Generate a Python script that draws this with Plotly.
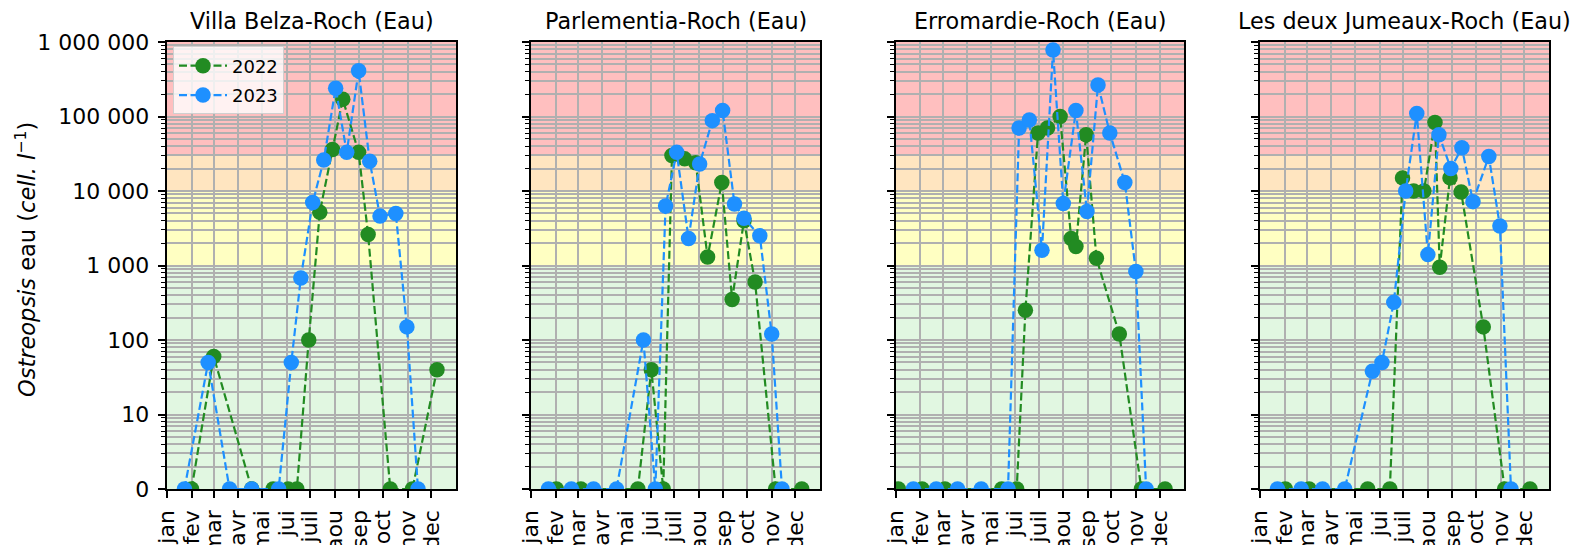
import numpy as np
import pandas as pd
import plotly.graph_objects as go

# ---------------- data ----------------
months = ["jan", "fev", "mar", "avr", "mai", "jui", "juil", "aou", "sep", "oct", "nov", "dec"]
month_starts = ["01-01", "02-01", "03-01", "04-01", "05-01", "06-01",
                "07-01", "08-01", "09-01", "10-01", "11-01", "12-01"]

site_titles = ["Villa Belza-Roch (Eau)", "Parlementia-Roch (Eau)",
               "Erromardie-Roch (Eau)", "Les deux Jumeaux-Roch (Eau)"]

y_tick_values = [0, 10, 100, 1000, 10000, 100000, 1000000]
y_tick_labels = ["0", "10", "100", "1 000", "10 000", "100 000", "1 000 000"]

band_limits = [0, 1000, 10000, 30000, 1000000]
band_colors = ["#e1f7e1", "#ffffc2", "#ffe5c0", "#ffbfbf"]

villa_dates_2022 = ["2022-02-01", "2022-03-01", "2022-04-18", "2022-05-15", "2022-06-03", "2022-06-14",
                    "2022-06-29", "2022-07-13", "2022-07-29", "2022-08-11", "2022-08-31", "2022-09-12",
                    "2022-10-10", "2022-11-07", "2022-12-08"]
villa_vals_2022 = [0, 60, 0, 0, 0, 0, 100, 5200, 36000, 170000, 33000, 2600, 0, 0, 40]
villa_dates_2023 = ["2023-01-23", "2023-02-22", "2023-03-21", "2023-04-18", "2023-05-22", "2023-06-07",
                    "2023-06-19", "2023-07-04", "2023-07-18", "2023-08-02", "2023-08-16", "2023-08-31",
                    "2023-09-14", "2023-09-27", "2023-10-17", "2023-10-31", "2023-11-14"]
villa_vals_2023 = [0, 50, 0, 0, 0, 50, 680, 7000, 26000, 240000, 33000, 410000, 25000, 4600, 5000, 150, 0]

parl_dates_2022 = ["2022-02-02", "2022-03-05", "2022-05-16", "2022-06-02", "2022-06-17", "2022-06-28",
                   "2022-07-14", "2022-07-28", "2022-08-12", "2022-08-30", "2022-09-12", "2022-09-27",
                   "2022-10-11", "2022-11-06", "2022-12-09"]
parl_vals_2022 = [0, 0, 0, 40, 0, 30000, 27000, 24000, 1300, 13000, 350, 4000, 600, 0, 0]
parl_dates_2023 = ["2023-01-23", "2023-02-21", "2023-03-21", "2023-04-19", "2023-05-23", "2023-06-07",
                   "2023-06-20", "2023-07-04", "2023-07-19", "2023-08-02", "2023-08-18", "2023-08-31",
                   "2023-09-15", "2023-09-27", "2023-10-17", "2023-11-01", "2023-11-14"]
parl_vals_2023 = [0, 0, 0, 0, 100, 0, 6300, 33000, 2300, 23000, 88000, 120000, 6700, 4300, 2500, 120, 0]

erro_dates_2022 = ["2022-01-04", "2022-02-03", "2022-03-04", "2022-05-15", "2022-06-03", "2022-06-14",
                   "2022-06-30", "2022-07-12", "2022-07-28", "2022-08-11", "2022-08-17", "2022-08-30",
                   "2022-09-12", "2022-10-11", "2022-11-08", "2022-12-08"]
erro_vals_2022 = [0, 0, 0, 0, 0, 250, 60000, 70000, 100000, 2300, 1800, 57000, 1250, 120, 0, 0]
erro_dates_2023 = ["2023-01-23", "2023-02-21", "2023-03-20", "2023-04-19", "2023-05-23", "2023-06-06",
                   "2023-06-19", "2023-07-05", "2023-07-19", "2023-08-01", "2023-08-17", "2023-08-31",
                   "2023-09-14", "2023-09-29", "2023-10-18", "2023-11-01", "2023-11-14"]
erro_vals_2023 = [0, 0, 0, 0, 0, 70000, 90000, 1600, 780000, 6800, 120000, 5300, 265000, 60000, 13000, 830, 0]

jum_dates_2022 = ["2022-02-02", "2022-03-04", "2022-05-17", "2022-06-14", "2022-06-30", "2022-07-14",
                  "2022-07-27", "2022-08-10", "2022-08-16", "2022-08-29", "2022-09-12", "2022-10-10",
                  "2022-11-06", "2022-12-08"]
jum_vals_2022 = [0, 0, 0, 0, 15000, 10000, 10000, 83000, 950, 15000, 9700, 150, 0, 0]
jum_dates_2023 = ["2023-01-23", "2023-02-22", "2023-03-21", "2023-04-18", "2023-05-23", "2023-06-04",
                  "2023-06-19", "2023-07-04", "2023-07-18", "2023-08-01", "2023-08-15", "2023-08-30",
                  "2023-09-13", "2023-09-27", "2023-10-17", "2023-10-31", "2023-11-14"]
jum_vals_2023 = [0, 0, 0, 0, 38, 50, 320, 10000, 110000, 1400, 57000, 20000, 38000, 7200, 29000, 3400, 0]

sites = [
    (villa_dates_2022, villa_vals_2022, villa_dates_2023, villa_vals_2023),
    (parl_dates_2022, parl_vals_2022, parl_dates_2023, parl_vals_2023),
    (erro_dates_2022, erro_vals_2022, erro_dates_2023, erro_vals_2023),
    (jum_dates_2022, jum_vals_2022, jum_dates_2023, jum_vals_2023),
]
years = ["2022", "2023"]
year_colors = ["#228B22", "#1E90FF"]


# ---------------- helpers ----------------
LINTHRESH = 10.0


def symlog(v):
    v = np.asarray(v, dtype=float)
    return np.where(v <= LINTHRESH, v / LINTHRESH,
                    1.0 + np.log10(np.maximum(v, LINTHRESH) / LINTHRESH))


def day_of_year(dates):
    return (pd.to_datetime(pd.Series(dates)).dt.dayofyear - 1).to_numpy()


month_tick_pos = day_of_year(["2022-" + m for m in month_starts])
y_major_pos = symlog(y_tick_values)
# minor ticks (matplotlib symlog style: log-spaced inside each unit)
y_minor_pos = [n + np.log10(k) for n in range(6) for k in range(2, 10)]

# ---------------- figure ----------------
# page coordinates; the html body has an 8 px margin, so the figure is offset
OFF = 8
PAGE_W, PAGE_H = 1581, 545
W, H = PAGE_W - OFF, PAGE_H - OFF
left_px, right_px, top_px, bot_px = 167 - OFF, 1549 - OFF, 41.5 - OFF, 489.5 - OFF
panel_lr = [(167, 456), (531, 820), (896, 1184), (1260, 1549)]
pw = right_px - left_px
ph = bot_px - top_px

fig = go.Figure()
font_family = "DejaVu Sans"
grid_c = "#b0b0b0"
TICK_FS = 22

layout = dict(
    width=W, height=H,
    margin=dict(l=left_px, r=W - right_px, t=top_px, b=H - bot_px, pad=0, autoexpand=False),
    plot_bgcolor="white", paper_bgcolor="white",
    font=dict(family=font_family, size=TICK_FS, color="black"),
    showlegend=True,
    legend=dict(x=(173 - OFF - left_px) / pw, y=1 - (46 - OFF - top_px) / ph,
                xanchor="left", yanchor="top",
                bgcolor="rgba(255,255,255,0.8)", bordercolor="#d0d0d0", borderwidth=1,
                font=dict(size=18, family=font_family), tracegroupgap=3, itemwidth=48),
)

shapes = []
annotations = []
for i, (d22, v22, d23, v23) in enumerate(sites):
    n = i + 1
    xa = "x" if n == 1 else f"x{n}"
    ya = "y" if n == 1 else f"y{n}"
    for dates, vals, yr, col in [(d22, v22, years[0], year_colors[0]),
                                  (d23, v23, years[1], year_colors[1])]:
        fig.add_trace(go.Scatter(
            x=day_of_year(dates), y=symlog(vals), name=yr, legendgroup=yr,
            mode="lines+markers", xaxis=xa, yaxis=ya,
            line=dict(color=col, width=2.2, dash="8px,3.5px"),
            marker=dict(color=col, size=15.5),
            showlegend=(n == 1), cliponaxis=True,
        ))
    x0, x1 = panel_lr[i]
    dom = [(x0 - OFF - left_px) / pw, (x1 - OFF - left_px) / pw]
    layout["xaxis" if n == 1 else f"xaxis{n}"] = dict(
        domain=dom, anchor=ya, range=[0, 365], automargin=False,
        tickmode="array", tickvals=month_tick_pos, ticktext=months, tickangle=-90,
        ticks="outside", ticklen=7.5, tickwidth=1.6, tickcolor="black",
        ticklabelstandoff=3,
        showgrid=True, gridcolor=grid_c, gridwidth=1.5,
        showline=True, linecolor="black", linewidth=1.7, mirror=True,
        zeroline=False, tickfont=dict(size=TICK_FS, family=font_family),
    )
    layout["yaxis" if n == 1 else f"yaxis{n}"] = dict(
        domain=[0, 1], anchor=xa, range=[0, 6], automargin=False,
        tickmode="array", tickvals=y_major_pos, ticktext=y_tick_labels,
        showticklabels=(n == 1), ticklabelstandoff=4,
        ticks="outside", ticklen=7.5, tickwidth=1.6, tickcolor="black",
        showgrid=True, gridcolor=grid_c, gridwidth=1.5,
        minor=dict(tickmode="array", tickvals=y_minor_pos, ticks="outside", ticklen=4.3,
                   tickwidth=1.2, tickcolor="black", showgrid=True, gridcolor=grid_c, gridwidth=1.5),
        showline=True, linecolor="black", linewidth=1.7, mirror=True,
        zeroline=False, tickfont=dict(size=TICK_FS, family=font_family),
    )
    xdom = "x domain" if n == 1 else f"x{n} domain"
    for lo, hi, c in zip(band_limits[:-1], band_limits[1:], band_colors):
        shapes.append(dict(type="rect", xref=xdom, yref=ya, x0=0, x1=1,
                           y0=float(symlog([lo])[0]), y1=float(symlog([hi])[0]),
                           fillcolor=c, line=dict(width=0), layer="below"))
    annotations.append(dict(text=site_titles[i], xref="paper", yref="paper",
                            x=(dom[0] + dom[1]) / 2, y=1 + (top_px - (20 - OFF)) / ph,
                            xanchor="center", yanchor="middle", showarrow=False,
                            font=dict(size=22.3, family=font_family, color="black")))

annotations.append(dict(text="<i>Ostreopsis</i> eau (<i>cell.</i> <i>l</i><sup>−1</sup>)",
                        xref="paper", yref="paper", x=(25 - OFF - left_px) / pw,
                        y=1 - (260 - OFF - top_px) / ph,
                        xanchor="center", yanchor="middle", textangle=-90, showarrow=False,
                        font=dict(size=22.5, family=font_family, color="black")))

layout["shapes"] = shapes
layout["annotations"] = annotations
fig.update_layout(**layout)

fig.write_html("out.html")
